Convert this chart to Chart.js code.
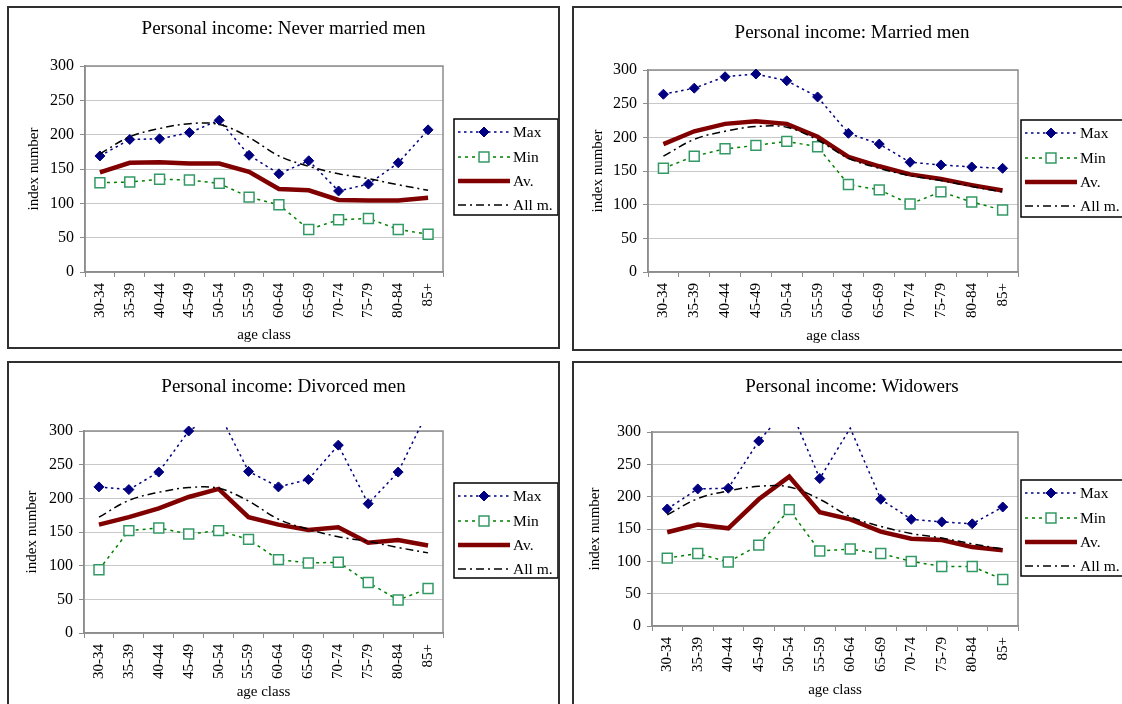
<!DOCTYPE html>
<html>
<head>
<meta charset="utf-8">
<title>Personal income by marital status</title>
<script src="https://cdn.jsdelivr.net/npm/chart.js"></script>
<style>
	html, body { margin: 0; padding: 0; background: #fff; }
	body { width: 1122px; height: 704px; overflow: hidden; position: relative; }
	.panel { position: absolute; border: 2px solid #303030; box-sizing: border-box; }
	.panel canvas { position: absolute; left: 0; top: 0; }
</style>
</head>
<body>
<div class="panel" id="p-never"><canvas id="c-never"></canvas></div>
<div class="panel" id="p-married"><canvas id="c-married"></canvas></div>
<div class="panel" id="p-divorced"><canvas id="c-divorced"></canvas></div>
<div class="panel" id="p-widow"><canvas id="c-widow"></canvas></div>
<script>
const ageClasses = ['30-34', '35-39', '40-44', '45-49', '50-54', '55-59', '60-64', '65-69', '70-74', '75-79', '80-84', '85+'];
const yTickValues = [0, 50, 100, 150, 200, 250, 300];

// reference line, same in every panel
const allMen = [172, 197, 209, 216, 215, 196, 169, 154, 143, 136, 127, 119];

const neverMax = [169, 193, 194, 203, 221, 170, 143, 162, 118, 128, 159, 207];
const neverMin = [130, 131, 135, 134, 129, 109, 98, 62, 76, 78, 62, 55];
const neverAv = [145, 159, 160, 158, 158, 146, 121, 119, 105, 104, 104, 108];

const marriedMax = [264, 273, 290, 294, 284, 260, 206, 190, 163, 159, 156, 154];
const marriedMin = [154, 172, 183, 188, 194, 186, 130, 122, 101, 119, 104, 92];
const marriedAv = [190, 209, 220, 224, 220, 201, 171, 157, 145, 138, 129, 121];

const divorcedMax = [217, 213, 239, 300, 328, 240, 217, 228, 279, 192, 239, 330];
const divorcedMin = [94, 152, 156, 147, 152, 139, 109, 104, 105, 75, 49, 66];
const divorcedAv = [161, 172, 185, 202, 214, 172, 161, 153, 157, 134, 138, 130];

const widowMax = [181, 212, 213, 286, 340, 228, 306, 196, 165, 161, 158, 184];
const widowMin = [105, 112, 99, 125, 180, 116, 119, 112, 100, 92, 92, 72];
const widowAv = [145, 157, 151, 196, 231, 176, 165, 146, 135, 133, 122, 117];

Chart.defaults.font.family = "'Liberation Serif', 'Times New Roman', serif";
Chart.defaults.color = '#000';

// layout of each panel (box in page px, the rest in canvas px)
const panels = [
	{ id: 'never', title: 'Personal income: Never married men', max: neverMax, min: neverMin, av: neverAv,
		box: [7, 6, 553, 343], titlePad: [9.6, 25.6], yWidth: 76, rightWidth: 115, xHeight: 75,
		yTitlePad: 16, xTitlePad: 3, legend: [445, 111, 104, 96] },
	{ id: 'married', title: 'Personal income: Married men', max: marriedMax, min: marriedMin, av: marriedAv,
		box: [572, 6, 560, 345], titlePad: [13.6, 25.6], yWidth: 74, rightWidth: 112, xHeight: 77,
		yTitlePad: 15, xTitlePad: 4, legend: [447, 112, 120, 97] },
	{ id: 'divorced', title: 'Personal income: Divorced men', max: divorcedMax, min: divorcedMin, av: divorcedAv,
		box: [7, 361, 553, 350], titlePad: [12.6, 32.6], yWidth: 75, rightWidth: 115, xHeight: 76,
		yTitlePad: 14, xTitlePad: 8, legend: [445, 120, 104, 95] },
	{ id: 'widow', title: 'Personal income: Widowers', max: widowMax, min: widowMin, av: widowAv,
		box: [572, 361, 560, 350], titlePad: [12.6, 33.6], yWidth: 78, rightWidth: 112, xHeight: 83,
		yTitlePad: 12, xTitlePad: 10, legend: [447, 117, 120, 96] }
];

function drawMarker(ctx, style, x, y, r) {
	ctx.beginPath();
	if (style === 'rectRot') {
		ctx.moveTo(x - r, y);
		ctx.lineTo(x, y - r);
		ctx.lineTo(x + r, y);
		ctx.lineTo(x, y + r);
	} else {
		const s = r * Math.SQRT1_2;
		ctx.rect(x - s, y - s, 2 * s, 2 * s);
	}
	ctx.closePath();
	ctx.fill();
	ctx.stroke();
}

const plotFrame = {
	id: 'plotFrame',
	beforeDatasetsDraw(chart) {
		const { ctx, chartArea: a } = chart;
		ctx.save();
		ctx.strokeStyle = '#8c8c8c';
		ctx.lineWidth = 1.5;
		ctx.strokeRect(a.left, a.top, a.right - a.left, a.bottom - a.top);
		ctx.restore();
	}
};

function makeLegend(p) {
	const rows = [13, 38, 62, 86];
	return {
		id: 'boxLegend',
		afterDraw(chart) {
			const ctx = chart.ctx;
			const [lx, ly, lw, lh] = p.legend;
			ctx.save();
			ctx.fillStyle = '#fff';
			ctx.fillRect(lx, ly, lw, lh);
			ctx.strokeStyle = '#000';
			ctx.lineWidth = 1.5;
			ctx.strokeRect(lx, ly, lw, lh);
			chart.data.datasets.forEach((ds, i) => {
				const y = ly + rows[i];
				ctx.setLineDash(ds.borderDash || []);
				ctx.strokeStyle = ds.borderColor;
				ctx.lineWidth = ds.borderWidth;
				ctx.beginPath();
				ctx.moveTo(lx + 4, y);
				ctx.lineTo(lx + 56, y);
				ctx.stroke();
				ctx.setLineDash([]);
				if (ds.legendMarker) {
					ctx.fillStyle = ds.pointBackgroundColor;
					ctx.strokeStyle = ds.pointBorderColor;
					ctx.lineWidth = ds.pointBorderWidth;
					drawMarker(ctx, ds.pointStyle, lx + 30, y, ds.legendMarker);
				}
				ctx.fillStyle = '#000';
				ctx.font = "15.5px 'Liberation Serif'";
				ctx.textBaseline = 'middle';
				ctx.textAlign = 'left';
				ctx.fillText(ds.label, lx + 59, y + 1);
			});
			ctx.restore();
		}
	};
}

function makeDatasets(p) {
	return [
		{
			label: 'Max', data: p.max, order: 3,
			borderColor: '#000080', borderWidth: 1.5, borderDash: [2.5, 3.5],
			pointStyle: 'rectRot', pointRadius: (c) => (c.raw > 300 ? 0 : 5), legendMarker: 5,
			pointBackgroundColor: '#000080', pointBorderColor: '#000080', pointBorderWidth: 1
		},
		{
			label: 'Min', data: p.min, order: 2,
			borderColor: '#008000', borderWidth: 1.5, borderDash: [3, 4],
			pointStyle: 'rect', pointRadius: 7, legendMarker: 7,
			pointBackgroundColor: '#ffffff', pointBorderColor: '#339966', pointBorderWidth: 1.5
		},
		{
			label: 'Av.', data: p.av, order: 1,
			borderColor: '#800000', borderWidth: 4.5, pointRadius: 0
		},
		{
			label: 'All m.', data: allMen, order: 0,
			borderColor: '#000000', borderWidth: 1.5, borderDash: [8, 4, 2, 4], pointRadius: 0, tension: 0.35
		}
	];
}

panels.forEach((p) => {
	const box = document.getElementById('p-' + p.id);
	const [bl, bt, bw, bh] = p.box;
	box.style.left = bl + 'px';
	box.style.top = bt + 'px';
	box.style.width = bw + 'px';
	box.style.height = bh + 'px';

	const canvas = document.getElementById('c-' + p.id);
	canvas.width = bw - 4;
	canvas.height = bh - 4;

	new Chart(canvas, {
		type: 'line',
		data: {
			labels: ageClasses,
			datasets: makeDatasets(p)
		},
		options: {
			responsive: false,
			animation: false,
			devicePixelRatio: 1,
			clip: { left: 5, top: 5, right: 5, bottom: 5 },
			layout: { padding: 0 },
			elements: { line: { fill: false } },
			plugins: {
				legend: { display: false },
				tooltip: { enabled: false },
				title: {
					display: true,
					text: p.title,
					color: '#000',
					font: { size: 19, weight: 'normal' },
					padding: { top: p.titlePad[0], bottom: p.titlePad[1] }
				}
			},
			scales: {
				x: {
					type: 'category',
					offset: true,
					grid: { display: true, offset: true, drawOnChartArea: false, drawTicks: true, tickLength: 5, color: '#8c8c8c', tickColor: '#8c8c8c' },
					border: { display: true, color: '#8c8c8c', width: 1.5 },
					ticks: { autoSkip: false, maxRotation: 90, minRotation: 90, padding: 6, color: '#000', font: { size: 15 } },
					title: { display: true, text: 'age class', color: '#000', font: { size: 15 }, padding: { top: 0, bottom: p.xTitlePad } },
					afterFit: (s) => { s.height = p.xHeight; }
				},
				y: {
					min: 0,
					max: 300,
					afterBuildTicks: (s) => { s.ticks = yTickValues.map(v => ({ value: v })); },
					grid: { color: '#c8c8c8', tickColor: '#8c8c8c', tickLength: 5 },
					border: { color: '#8c8c8c', width: 1.5 },
					ticks: { padding: 6, color: '#000', font: { size: 16 } },
					title: { display: true, text: 'index number', color: '#000', font: { size: 15 }, padding: { top: p.yTitlePad, bottom: 0 } },
					afterFit: (s) => { s.width = p.yWidth; }
				},
				legendSpace: {
					type: 'linear',
					position: 'right',
					display: true,
					grid: { display: false },
					border: { display: false },
					ticks: { display: false },
					afterFit: (s) => { s.width = p.rightWidth; }
				}
			}
		},
		plugins: [plotFrame, makeLegend(p)]
	});
});
</script>
</body>
</html>
